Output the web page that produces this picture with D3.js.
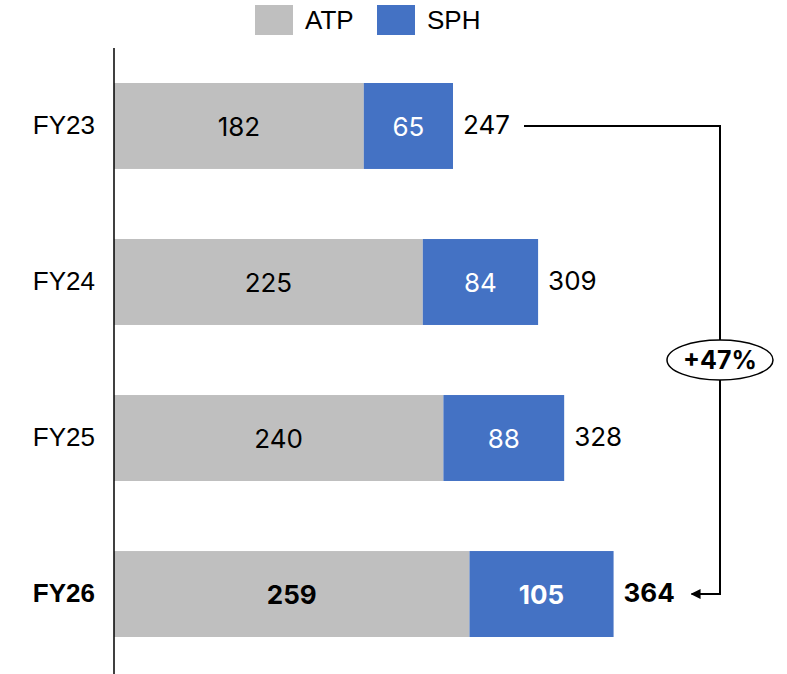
<!DOCTYPE html>
<html>
<head>
<meta charset="utf-8">
<script src="https://cdn.jsdelivr.net/npm/d3@7"></script>
<style>
  html, body { margin: 0; padding: 0; background: #fff; }
  svg { display: block; }
</style>
</head>
<body>
<svg id="chart" width="787" height="674"></svg>
<script>
// Fiscal years and stacked components
const categories = ["FY23", "FY24", "FY25", "FY26"];
const atpValues = [182, 225, 240, 259];
const sphValues = [65, 84, 88, 105];
const totals = [247, 309, 328, 364];
const seriesNames = ["ATP", "SPH"];
const growthLabel = "+47%";

const colors = { ATP: "#BFBFBF", SPH: "#4472C4" };
const labelFont = "'Liberation Sans', Arial, sans-serif";
const valueFont = "Inter, 'Noto Sans', sans-serif";

const svg = d3.select("#chart");
const W = 787, H = 674;
const axisX = 114;

const x = d3.scaleLinear().domain([0, 247]).range([axisX, 453]);
const y = d3.scaleBand().domain(categories).range([83, 637]).paddingInner(0.449).paddingOuter(0);

const rows = categories.map((c, i) => ({
  cat: c, ATP: atpValues[i], SPH: sphValues[i], total: totals[i], bold: i === categories.length - 1
}));
const stack = d3.stack().keys(seriesNames)(rows);

// Bars
stack.forEach(layer => {
  svg.append("g").selectAll("rect").data(layer).join("rect")
    .attr("x", d => x(d[0]))
    .attr("y", d => y(d.data.cat))
    .attr("width", d => x(d[1]) - x(d[0]))
    .attr("height", y.bandwidth())
    .attr("fill", colors[layer.key]);
});

// Segment value labels
stack.forEach(layer => {
  svg.append("g").selectAll("text").data(layer).join("text")
    .attr("x", d => (x(d[0]) + x(d[1])) / 2)
    .attr("y", d => y(d.data.cat) + y.bandwidth() / 2)
    .attr("dy", "0.38em")
    .attr("text-anchor", "middle")
    .attr("font-family", valueFont)
    .attr("font-size", 26)
    .attr("font-weight", d => d.data.bold ? 700 : 400)
    .attr("fill", layer.key === "SPH" ? "#fff" : "#000")
    .text(d => d[1] - d[0]);
});

// Totals
svg.append("g").selectAll("text").data(rows).join("text")
  .attr("x", d => x(d.total) + 10)
  .attr("y", d => y(d.cat) + y.bandwidth() / 2)
  .attr("dy", "0.3em")
  .attr("font-family", valueFont)
  .attr("font-size", 26)
  .attr("font-weight", d => d.bold ? 700 : 400)
  .attr("fill", "#000")
  .text(d => d.total);

// Category axis
const yAxis = svg.append("g").attr("transform", `translate(${axisX},0)`)
  .call(d3.axisLeft(y).tickSize(0).tickPadding(19));
yAxis.select(".domain").remove();
yAxis.append("line").attr("x1", 0).attr("x2", 0).attr("y1", 48).attr("y2", H)
  .attr("stroke", "#000").attr("stroke-width", 1.5);
yAxis.selectAll(".tick text")
  .attr("font-family", labelFont)
  .attr("font-size", 26)
  .attr("fill", "#000")
  .attr("font-weight", d => d === categories[categories.length - 1] ? 700 : 400);

// Legend
const legend = svg.append("g");
const legendX = [255, 377];
seriesNames.forEach((s, i) => {
  legend.append("rect").attr("x", legendX[i]).attr("y", 5).attr("width", 38).attr("height", 30).attr("fill", colors[s]);
  legend.append("text").attr("x", legendX[i] + 50).attr("y", 20).attr("dy", "0.35em")
    .attr("font-family", labelFont).attr("font-size", 26).attr("fill", "#000").text(s);
});

// Growth connector from first total to last total
const first = rows[0], last = rows[rows.length - 1];
const yFirst = y(first.cat) + y.bandwidth() / 2;
const yLast = y(last.cat) + y.bandwidth() / 2;
const bracketX = 720;
svg.append("defs").append("marker")
  .attr("id", "arrow").attr("viewBox", "0 0 10 10").attr("refX", 9).attr("refY", 5)
  .attr("markerWidth", 5).attr("markerHeight", 5).attr("orient", "auto-start-reverse")
  .attr("markerUnits", "strokeWidth")
  .append("path").attr("d", "M0,0 L10,5 L0,10 z").attr("fill", "#000");

svg.append("path")
  .attr("d", `M${x(first.total) + 71},${yFirst} H${bracketX} V${yLast} H${x(last.total) + 78}`)
  .attr("fill", "none").attr("stroke", "#000").attr("stroke-width", 2)
  .attr("marker-end", "url(#arrow)");

const midY = 360;
svg.append("ellipse").attr("cx", bracketX).attr("cy", midY).attr("rx", 53).attr("ry", 20)
  .attr("fill", "#fff").attr("stroke", "#000").attr("stroke-width", 1.5);
svg.append("text").attr("x", bracketX).attr("y", midY).attr("dy", "0.36em")
  .attr("text-anchor", "middle").attr("font-family", valueFont).attr("font-size", 25)
  .attr("font-weight", 700).attr("fill", "#000").text(growthLabel);
</script>
</body>
</html>
